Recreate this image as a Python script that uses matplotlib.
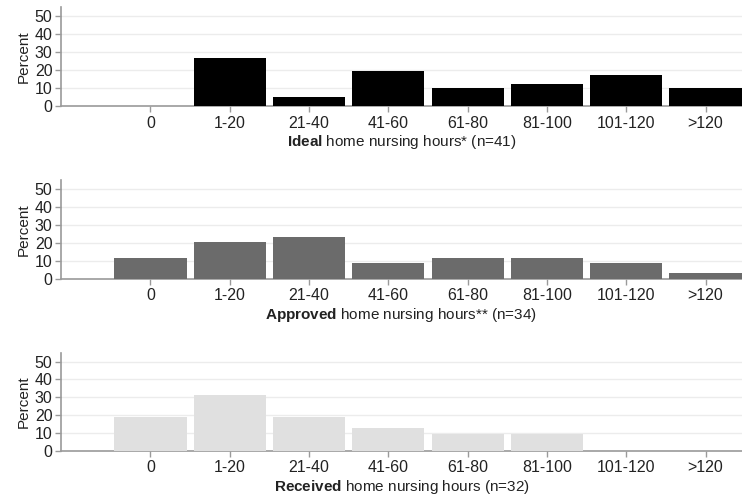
import matplotlib
matplotlib.use("Agg")
import matplotlib.pyplot as plt

plt.rcParams['font.family'] = ['Liberation Sans', 'DejaVu Sans']
plt.rcParams['mathtext.fontset'] = 'custom'
plt.rcParams['mathtext.rm'] = 'Liberation Sans'
plt.rcParams['mathtext.bf'] = 'Liberation Sans:bold'

categories = ["0", "1-20", "21-40", "41-60", "61-80", "81-100", "101-120", ">120"]
ideal = [0, 26.8, 4.9, 19.5, 9.8, 12.2, 17.1, 9.8]
approved = [11.8, 20.6, 23.5, 8.8, 11.8, 11.8, 8.8, 2.9]
received = [18.75, 31.25, 18.75, 12.5, 9.4, 9.4, 0, 0]
yticks = [0, 10, 20, 30, 40, 50]

series = [
    (ideal, "#000000", r"$\mathbf{Ideal}$ home nursing hours* (n=41)"),
    (approved, "#6b6b6b", r"$\mathbf{Approved}$ home nursing hours** (n=34)"),
    (received, "#e0e0e0", r"$\mathbf{Received}$ home nursing hours (n=32)"),
]

fig = plt.figure(figsize=(7.42, 4.95), dpi=100)
positions = [(0.082, 0.786, 0.918, 0.200),
             (0.082, 0.437, 0.918, 0.199),
             (0.082, 0.0895, 0.918, 0.198)]

for (vals, color, label), pos in zip(series, positions):
    ax = fig.add_axes(pos)
    x = list(range(len(categories)))
    ax.bar(x, vals, width=0.91, color=color, zorder=3)
    ax.set_xlim(-1.13, 7.46)
    ax.set_ylim(0, 55)
    ax.set_yticks(yticks)
    ax.set_xticks(x)
    ax.set_xticklabels(categories)
    for s in ['top', 'right']:
        ax.spines[s].set_visible(False)
    for s in ['left', 'bottom']:
        ax.spines[s].set_color('#9a9a9a')
        ax.spines[s].set_linewidth(1.2)
    ax.tick_params(axis='both', colors='#9a9a9a', labelcolor='#222222',
                   labelsize=11.5, length=4, width=1.0, pad=2)
    ax.tick_params(axis='x', pad=3)
    ax.yaxis.grid(True, color='#ececec', linewidth=1.0, zorder=0)
    ax.set_axisbelow(True)
    ax.set_ylabel("Percent", fontsize=11, color='#222222', labelpad=3)
    ax.set_xlabel(label, fontsize=11, color='#222222', labelpad=2)

fig.savefig("out.png", dpi=100)
